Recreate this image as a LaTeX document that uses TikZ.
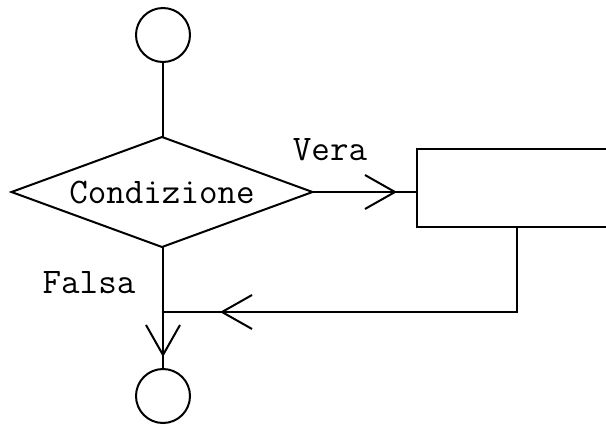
\documentclass[tikz,border=0pt]{standalone}
\usepackage{fontspec}
\usetikzlibrary{shapes.geometric, arrows.meta, positioning, decorations.markings}

\begin{document}
\begin{tikzpicture}[
  x=1pt, y=1pt, line width=2pt,
  term/.style={draw, circle, minimum size=54pt, inner sep=0pt, outer sep=0pt},
  cond/.style={draw, diamond, aspect=2.74, minimum width=301pt, minimum height=110pt,
               inner sep=0pt, outer sep=0pt, font=\ttfamily\fontsize{36}{36}\selectfont},
  proc/.style={draw, rectangle, minimum width=200pt, minimum height=78pt, outer sep=0pt},
  lbl/.style={font=\ttfamily\fontsize{36}{36}\selectfont, inner sep=0pt},
  flow/.style={postaction={decorate}, decoration={markings,
               mark=at position #1 with {\arrow{Straight Barb[length=30pt, width=34pt]}}}},
]
  \useasboundingbox (0,0) rectangle (606,-424);

  \node[term] (start) at (163,-35) {};
  \node[cond] (test)  at (162,-192) {Condizione};
  \node[proc] (body)  at (517,-188) {};
  \node[term] (stop)  at (163,-396) {};

  \node[lbl] (vera)  at (330,-150) {Vera};
  \node[lbl] (falsa) at (89,-283) {Falsa};

  \coordinate (merge) at (163,-312);

  \draw (start) -- (start |- test.north);
  \draw[flow=-20pt] (test.east) -- (test.east -| body.west);
  \draw[flow=-57pt] (body.south) |- (merge);
  \draw[flow=-12pt] (start |- test.south) -- (stop);
\end{tikzpicture}
\end{document}
